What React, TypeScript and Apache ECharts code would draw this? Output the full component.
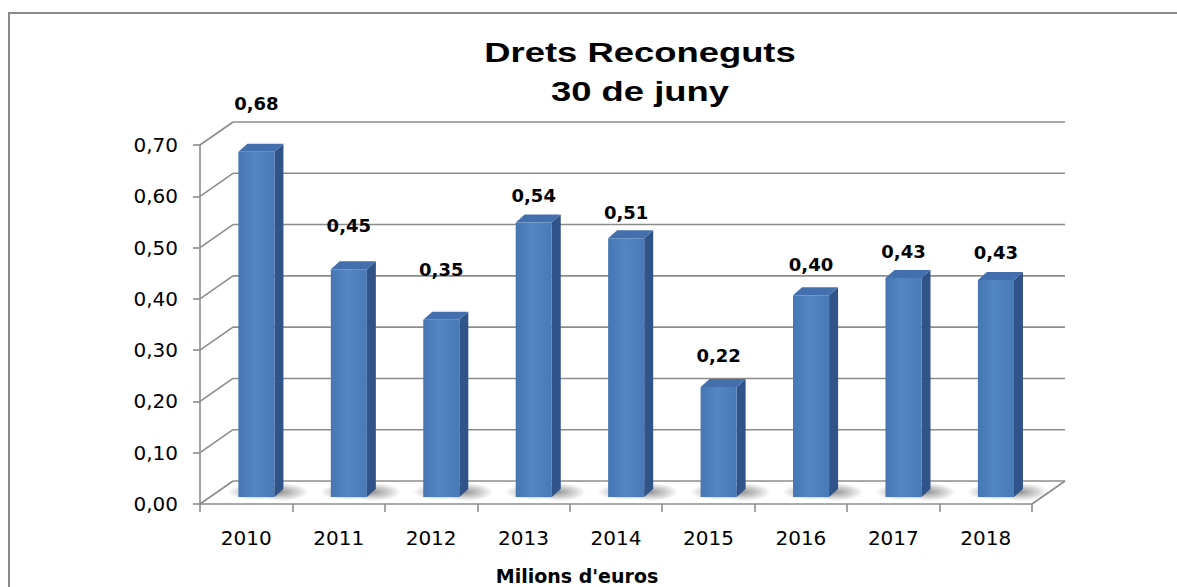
import React, { useEffect, useRef } from "react";
import * as echarts from "echarts";

const YEARS = ["2010", "2011", "2012", "2013", "2014", "2015", "2016", "2017", "2018"];
const VALUES = [0.678, 0.447, 0.348, 0.539, 0.508, 0.216, 0.396, 0.43, 0.426];
const Y_TICKS = [0, 0.1, 0.2, 0.3, 0.4, 0.5, 0.6, 0.7];
const TITLE_LINES = ["Drets Reconeguts", "30 de juny"];
const AXIS_NAME = "Milions d'euros";

// style: how far each data label sits above its bar (as placed in the reference)
const LABEL_LIFT = [48, 44, 50, 27, 26, 31, 31, 27, 28];

const DEPTH_X = 33;
const DEPTH_Y = -23;
const LINE = "#8c8c8c";

const fmt = (v: number) => v.toFixed(2).replace(".", ",");

export default function App() {
  const ref = useRef<HTMLDivElement>(null);
  useEffect(() => {
    if (!ref.current) return;
    document.body.style.margin = "0";
    document.body.style.overflow = "hidden";
    const chart = echarts.init(ref.current, undefined, { renderer: "svg" });

    const wallItem = (params: any, api: any) => {
      const v = api.value(1);
      const cs = params.coordSys;
      const y = api.coord([0, v])[1];
      const x0 = cs.x;
      const x1 = cs.x + cs.width;
      const st = { stroke: LINE, lineWidth: 1.6 };
      const children: any[] = [
        { type: "line", shape: { x1: x0, y1: y, x2: x0 + DEPTH_X, y2: y + DEPTH_Y }, style: st },
        { type: "line", shape: { x1: x0 + DEPTH_X, y1: y + DEPTH_Y, x2: x1 + DEPTH_X, y2: y + DEPTH_Y }, style: st },
      ];
      if (v === 0) {
        children.push({ type: "line", shape: { x1: x1, y1: y, x2: x1 + DEPTH_X, y2: y + DEPTH_Y }, style: st });
      }
      return { type: "group", children };
    };

    const barItem = (params: any, api: any) => {
      const i = api.value(0);
      const v = api.value(1);
      const base = api.coord([i, 0]);
      const top = api.coord([i, v]);
      const band = api.size([1, 0])[0];
      const h = (base[1] - top[1]) * 0.993;
      const fx = base[0] - band * 0.085;
      const fw = band * 0.39;
      const fb = base[1] - 7;
      const ft = fb - h;
      const sdx = 9;
      const sdy = -8;
      const shadowGrad = new echarts.graphic.RadialGradient(0.5, 0.5, 0.5, [
        { offset: 0, color: "rgba(0,0,0,0.38)" },
        { offset: 0.5, color: "rgba(0,0,0,0.2)" },
        { offset: 1, color: "rgba(0,0,0,0)" },
      ]);
      const frontGrad = new echarts.graphic.LinearGradient(0, 0, 1, 0, [
        { offset: 0, color: "#4676b3" },
        { offset: 0.45, color: "#5386c5" },
        { offset: 1, color: "#4979b7" },
      ]);
      return {
        type: "group",
        children: [
          {
            type: "ellipse",
            shape: { cx: fx + fw * 0.5, cy: fb - 5, rx: fw * 0.8, ry: 8 },
            style: { fill: shadowGrad },
          },
          {
            type: "ellipse",
            shape: { cx: fx + fw + 8, cy: fb - 5, rx: 26, ry: 9 },
            style: { fill: shadowGrad },
          },
          {
            type: "polygon",
            shape: {
              points: [
                [fx + fw, fb],
                [fx + fw + sdx, fb + sdy],
                [fx + fw + sdx, ft + sdy],
                [fx + fw, ft],
              ],
            },
            style: { fill: "#30548a" },
          },
          {
            type: "polygon",
            shape: {
              points: [
                [fx, ft],
                [fx + fw, ft],
                [fx + fw + sdx, ft + sdy],
                [fx + sdx, ft + sdy],
              ],
            },
            style: { fill: "#4370ac" },
          },
          {
            type: "rect",
            shape: { x: fx, y: ft, width: fw, height: h },
            style: { fill: frontGrad },
          },
          {
            type: "text",
            style: {
              x: fx + fw / 2,
              y: ft - LABEL_LIFT[i],
              text: fmt(VALUES[i]),
              fill: "#000",
              font: 'bold 18px "DejaVu Sans"',
              align: "center",
              verticalAlign: "middle",
            },
          },
        ],
      };
    };

    chart.setOption({
      animation: false,
      backgroundColor: "#ffffff",
      grid: { left: 200, top: 145, width: 832, height: 359, outerBoundsMode: "none", containLabel: false },
      xAxis: {
        type: "category",
        data: YEARS,
        boundaryGap: true,
        axisLine: { show: true, lineStyle: { color: LINE, width: 1.6 } },
        axisTick: { show: true, length: 8, lineStyle: { color: LINE, width: 1.6 } },
        axisLabel: { color: "#000", fontFamily: "DejaVu Sans", fontSize: 20, margin: 24 },
        splitLine: { show: false },
        name: AXIS_NAME,
        nameLocation: "middle",
        nameGap: 62,
        nameTextStyle: {
          color: "#000",
          fontFamily: "DejaVu Sans",
          fontWeight: "bold",
          fontSize: 19,
          padding: [0, 78, 0, 0],
        },
      },
      yAxis: {
        type: "value",
        min: 0,
        max: 0.7,
        interval: 0.1,
        axisLine: { show: true, lineStyle: { color: LINE, width: 1.6 } },
        axisTick: { show: true, length: 7, lineStyle: { color: LINE, width: 1.6 } },
        axisLabel: {
          color: "#000",
          fontFamily: "DejaVu Sans",
          fontSize: 20,
          margin: 22,
          padding: [6, 0, 0, 0],
          formatter: (v: number) => fmt(v),
        },
        splitLine: { show: false },
      },
      graphic: [
        {
          type: "line",
          silent: true,
          z: -10,
          shape: { x1: 9, y1: 13, x2: 1177, y2: 13 },
          style: { stroke: "#8a8a8a", lineWidth: 2 },
        },
        {
          type: "line",
          silent: true,
          z: -10,
          shape: { x1: 9, y1: 12, x2: 9, y2: 587 },
          style: { stroke: "#8a8a8a", lineWidth: 2 },
        },
        ...TITLE_LINES.map((t, k) => ({
          type: "text",
          x: 640,
          y: 53 + k * 39,
          scaleX: 1.3,
          style: {
            text: t,
            fill: "#000",
            font: 'bold 28px "Liberation Sans"',
            textAlign: "center",
            textVerticalAlign: "middle",
            align: "center",
            verticalAlign: "middle",
          },
        })),
      ],
      series: [
        {
          type: "custom",
          z: 1,
          renderItem: wallItem,
          data: Y_TICKS.map((v) => [0, v]),
          silent: true,
        },
        {
          type: "custom",
          z: 2,
          renderItem: barItem,
          data: VALUES.map((v, i) => [i, v]),
        },
      ],
    });

    return () => chart.dispose();
  }, []);

  return (
    <div
      ref={ref}
      style={{ position: "absolute", left: 0, top: 0, width: 1177, height: 587 }}
    />
  );
}
